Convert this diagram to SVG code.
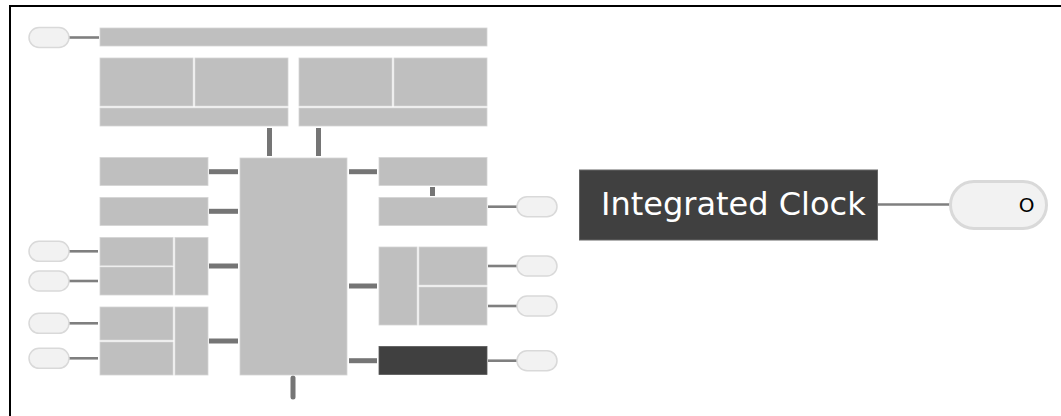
<svg xmlns="http://www.w3.org/2000/svg" width="1061" height="416" viewBox="0 0 1061 416">
<style>
.blk{fill:#bfbfbf;stroke:#d4d4d4;stroke-width:0.8}
.dark{fill:#404040;stroke:#595959;stroke-width:0.8}
.pill{fill:#f2f2f2;stroke:#d9d9d9;stroke-width:1.5}
.thin{stroke:#7f7f7f;stroke-width:2.6;fill:none}
.thick{stroke:#757575;stroke-width:5;fill:none}
.lbl{font-family:"DejaVu Sans",Verdana,sans-serif}
</style>
<rect x="10" y="6" width="1100" height="460" fill="none" stroke="#000" stroke-width="2"/>
<g id="connectors">
<line class="thin" x1="69" y1="37.5" x2="99" y2="37.5"/>
<line class="thick" x1="269.5" y1="128" x2="269.5" y2="156"/>
<line class="thick" x1="318.5" y1="128" x2="318.5" y2="156"/>
<line class="thick" x1="209" y1="171.7" x2="238" y2="171.7"/>
<line class="thick" x1="209" y1="211.3" x2="238" y2="211.3"/>
<line class="thick" x1="209" y1="266" x2="238" y2="266"/>
<line class="thick" x1="209" y1="341" x2="238" y2="341"/>
<line class="thick" x1="349" y1="171.7" x2="377" y2="171.7"/>
<line class="thick" x1="432.5" y1="187" x2="432.5" y2="196"/>
<line class="thick" x1="349" y1="286" x2="377" y2="286"/>
<line class="thick" x1="349" y1="360.7" x2="377" y2="360.7"/>
<line class="thick" x1="293" y1="378" x2="293" y2="397" stroke-linecap="round"/>
<line class="thin" x1="69" y1="251.3" x2="98" y2="251.3"/>
<line class="thin" x1="69" y1="281" x2="98" y2="281"/>
<line class="thin" x1="69" y1="323.3" x2="98" y2="323.3"/>
<line class="thin" x1="69" y1="358.3" x2="98" y2="358.3"/>
<line class="thin" x1="488" y1="206.7" x2="517" y2="206.7"/>
<line class="thin" x1="488" y1="266" x2="517" y2="266"/>
<line class="thin" x1="488" y1="306" x2="517" y2="306"/>
<line class="thin" x1="488" y1="360.7" x2="517" y2="360.7"/>
<line class="thin" x1="878" y1="204.5" x2="950" y2="204.5"/>
</g>
<g id="top-bar"><rect class="blk" x="100" y="28" width="387" height="18"/></g>
<g id="top-left-group">
<rect class="blk" x="100" y="58" width="93" height="48"/>
<rect class="blk" x="195" y="58" width="93" height="48"/>
<rect class="blk" x="100" y="108" width="188" height="18"/>
</g>
<g id="top-right-group">
<rect class="blk" x="299" y="58" width="93" height="48"/>
<rect class="blk" x="394" y="58" width="93" height="48"/>
<rect class="blk" x="299" y="108" width="188" height="18"/>
</g>
<g id="center"><rect class="blk" x="240" y="158" width="107" height="217"/></g>
<g id="left-1"><rect class="blk" x="100" y="157.5" width="108" height="28"/></g>
<g id="left-2"><rect class="blk" x="100" y="197.5" width="108" height="28"/></g>
<g id="left-3">
<rect class="blk" x="100" y="237.5" width="73" height="28"/>
<rect class="blk" x="100" y="267" width="73" height="28"/>
<rect class="blk" x="175" y="237.5" width="33" height="57.5"/>
</g>
<g id="left-4">
<rect class="blk" x="100" y="307" width="73" height="33"/>
<rect class="blk" x="100" y="342" width="73" height="33"/>
<rect class="blk" x="175" y="307" width="33" height="68"/>
</g>
<g id="right-1"><rect class="blk" x="379" y="157.5" width="108" height="28"/></g>
<g id="right-2"><rect class="blk" x="379" y="197.5" width="108" height="28"/></g>
<g id="right-3">
<rect class="blk" x="379" y="247" width="38" height="78"/>
<rect class="blk" x="419" y="247" width="68" height="38"/>
<rect class="blk" x="419" y="287" width="68" height="38"/>
</g>
<g id="right-4"><rect class="dark" x="379" y="346.5" width="108" height="28"/></g>
<g id="pill-top"><rect class="pill" x="29" y="27.5" width="40" height="20" rx="10"/></g>
<g id="pill-l1"><rect class="pill" x="29" y="241.3" width="40" height="20" rx="10"/></g>
<g id="pill-l2"><rect class="pill" x="29" y="271" width="40" height="20" rx="10"/></g>
<g id="pill-l3"><rect class="pill" x="29" y="313.3" width="40" height="20" rx="10"/></g>
<g id="pill-l4"><rect class="pill" x="29" y="348.3" width="40" height="20" rx="10"/></g>
<g id="pill-r1"><rect class="pill" x="517" y="196.7" width="40" height="20" rx="10"/></g>
<g id="pill-r2"><rect class="pill" x="517" y="256" width="40" height="20" rx="10"/></g>
<g id="pill-r3"><rect class="pill" x="517" y="296" width="40" height="20" rx="10"/></g>
<g id="pill-r4"><rect class="pill" x="517" y="350.7" width="40" height="20" rx="10"/></g>
<g id="integrated-clock">
<rect x="579.5" y="170" width="298" height="70" fill="#404040" stroke="#666" stroke-width="1"/>
<text class="lbl" x="601" y="215" font-size="32" fill="#ffffff">Integrated Clock</text>
</g>
<g id="value-pill">
<rect x="950.5" y="181.5" width="96" height="47" rx="23.5" fill="#f2f2f2" stroke="#d9d9d9" stroke-width="3"/>
<text class="lbl" x="1026.5" y="211.5" font-size="20" fill="#000" text-anchor="middle">O</text>
</g>
</svg>
